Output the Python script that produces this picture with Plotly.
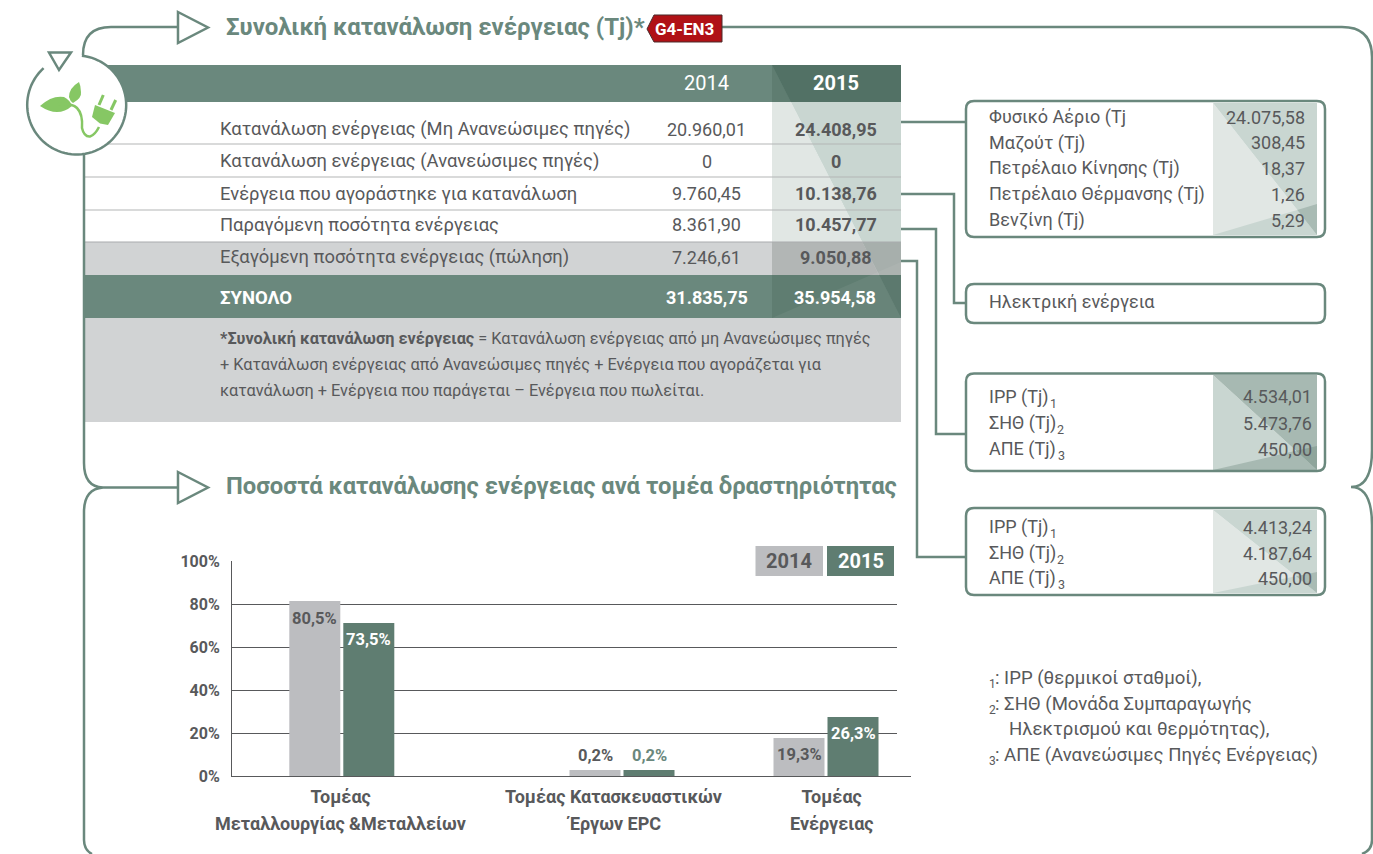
import re
import math
import plotly.graph_objects as go

W, H = 1373, 854
FONT = "Roboto"
GREEN = "#6a887d"
BAR_GREEN = "#5f7d71"
BAR_GREY = "#bcbdc0"
TXT = "#58595b"
ICON = "#86c764"

# ---------- data ----------
title_main = "Συνολική κατανάλωση ενέργειας (Tj)*"
title_sector = "Ποσοστά κατανάλωσης ενέργειας ανά τομέα δραστηριότητας"
gri_tag = "G4-EN3"
years = ["2014", "2015"]
table_rows = ["Κατανάλωση ενέργειας (Μη Ανανεώσιμες πηγές)",
              "Κατανάλωση ενέργειας (Ανανεώσιμες πηγές)",
              "Ενέργεια που αγοράστηκε για κατανάλωση",
              "Παραγόμενη ποσότητα ενέργειας",
              "Εξαγόμενη ποσότητα ενέργειας (πώληση)"]
table_2014 = ["20.960,01", "0", "9.760,45", "8.361,90", "7.246,61"]
table_2015 = ["24.408,95", "0", "10.138,76", "10.457,77", "9.050,88"]
total_label = "ΣΥΝΟΛΟ"
total_2014 = "31.835,75"
total_2015 = "35.954,58"
note_lines = ["<b>*Συνολική κατανάλωση ενέργειας</b> = Κατανάλωση ενέργειας από μη Ανανεώσιμες πηγές",
              "+ Κατανάλωση ενέργειας από Ανανεώσιμες πηγές + Ενέργεια που αγοράζεται για",
              "κατανάλωση + Ενέργεια που παράγεται – Ενέργεια που πωλείται."]

fuel_labels = ["Φυσικό Αέριο (Tj", "Μαζούτ (Tj)", "Πετρέλαιο Κίνησης (Tj)", "Πετρέλαιο Θέρμανσης (Tj)", "Βενζίνη (Tj)"]
fuel_values = ["24.075,58", "308,45", "18,37", "1,26", "5,29"]
electricity_label = "Ηλεκτρική ενέργεια"
source_labels = ["IPP (Tj)", "ΣΗΘ (Tj)", "ΑΠΕ (Tj)"]
source_marks = ["1", "2", "3"]
produced_values = ["4.534,01", "5.473,76", "450,00"]
exported_values = ["4.413,24", "4.187,64", "450,00"]
footnotes = [": IPP (θερμικοί σταθμοί),",
             ": ΣΗΘ (Μονάδα Συμπαραγωγής",
             "Ηλεκτρισμού και θερμότητας),",
             ": ΑΠΕ (Ανανεώσιμες Πηγές Ενέργειας)"]

sector_line1 = ["Τομέας", "Τομέας Κατασκευαστικών", "Τομέας"]
sector_line2 = ["Μεταλλουργίας &Μεταλλείων", "Έργων EPC", "Ενέργειας"]
# bar heights as drawn in the picture, and the labels printed on them
bars_2014 = [81.4, 2.8, 17.7]
bars_2015 = [71.2, 2.8, 27.4]
labels_2014 = ["80,5%", "0,2%", "19,3%"]
labels_2015 = ["73,5%", "0,2%", "26,3%"]
y_ticks = [0, 20, 40, 60, 80, 100]

# ---------- layout constants (pixels of the page) ----------
PX_L, PX_R, PX_B, PX_T = 232, 897, 776, 561
GROUPS = [341.8, 622.0, 826.0]
BAR_W, BAR_GAP = 51, 3
TICK_X = [340.6, 613.5, 831.6]
LABEL_SHIFT_2014 = [-18, 14, -17]
LABEL_SHIFT_2015 = [-17, 14, -16]

shapes, annos = [], []


def px(d):
    """Turn a path written in page pixels into paper coordinates."""
    flip = [True]

    def rep(m):
        v = float(m.group())
        if flip[0]:
            r = v / W
        else:
            r = 1 - v / H
        flip[0] = not flip[0]
        return f"{r:.5f}"
    return re.sub(r"-?\d+(?:\.\d+)?", rep, d)


def path(d, fill=None, line=None, lw=0, layer="below"):
    s = dict(type="path", xref="paper", yref="paper", path=px(d), layer=layer,
             line=dict(color=line if line else "rgba(0,0,0,0)", width=lw))
    if fill:
        s["fillcolor"] = fill
    shapes.append(s)


def rect(x0, y0, x1, y1, fill, layer="below"):
    shapes.append(dict(type="rect", xref="paper", yref="paper", x0=x0 / W, x1=x1 / W,
                       y0=1 - y0 / H, y1=1 - y1 / H, fillcolor=fill, line=dict(width=0), layer=layer))


def poly(pts, fill):
    path("M" + " L".join(f"{a:.2f},{b:.2f}" for a, b in pts) + " Z", fill=fill)


def text(x, y, s, size=18, color=TXT, bold=False, anchor="left"):
    annos.append(dict(xref="paper", yref="paper", x=x / W, y=1 - y / H, text=f"<b>{s}</b>" if bold else s,
                      showarrow=False, xanchor=anchor, yanchor="middle", borderpad=0,
                      font=dict(family=FONT, size=size, color=color)))


def rbox(x0, y0, x1, y1, r=8, lw=2.5):
    path(f"M{x0 + r},{y0} L{x1 - r},{y0} Q{x1},{y0} {x1},{y0 + r} L{x1},{y1 - r} Q{x1},{y1} {x1 - r},{y1} "
         f"L{x0 + r},{y1} Q{x0},{y1} {x0},{y1 - r} L{x0},{y0 + r} Q{x0},{y0} {x0 + r},{y0} Z", line=GREEN, lw=lw)


# ---------- table ----------
C0, C1 = 772, 901
T0, T1 = 65, 318


def dx(y):
    return C0 + (y - T0) * (C1 - C0) / (T1 - T0)


rect(84, 65, C1, 102, GREEN)
rect(84, 242, C1, 275, "#d1d3d4")
rect(84, 275, C1, 318, GREEN)
rect(84, 318, C1, 422, "#d1d3d4")


def band(y0, y1, left, right):
    poly([(C0, y0), (dx(y0), y0), (dx(y1), y1), (C0, y1)], left)
    poly([(dx(y0), y0), (C1, y0), (C1, y1), (dx(y1), y1)], right)


band(65, 102, "#5f7d71", "#527165")
band(102, 242, "#e1e7e4", "#c9d6d1")
band(242, 275, "#b2b6b5", "#a7afac")
band(275, 318, "#5f7d71", "#527165")
poly([(C0, 318), (C1, 262), (C1, 318)], "rgba(255,255,255,0.06)")

for y in (144, 177, 210):
    rect(85, y - 0.5, C1, y + 0.5, "#b3b5b6")
rect(85, 241.5, C1, 242.5, "#a9abad")

text(706.5, 83, years[0], 20, "#ffffff", anchor="center")
text(835.5, 83, years[1], 20, "#ffffff", True, anchor="center")
ROW_Y = [129, 161, 193, 225, 257]
for y, a, b, c in zip(ROW_Y, table_rows, table_2014, table_2015):
    text(219, y, a, 18.4)
    text(706.5, y, b, 18, anchor="center")
    text(835.5, y, c, 18, bold=True, anchor="center")
text(219, 298, total_label, 18.5, "#ffffff", True)
text(707, 298, total_2014, 18, "#ffffff", True, anchor="center")
text(835, 298, total_2015, 18, "#ffffff", True, anchor="center")
for y, s in zip((338, 365, 391), note_lines):
    text(219, y, s, 16.3)

# ---------- frame ----------
FRAME = 2.5
path("M83,55 Q83,27 111,27 L178,27", line=GREEN, lw=FRAME)
path("M722,27 L1342,27 Q1372,27 1372,57 L1372,450 Q1372,487 1351,487 Q1372,487 1372,525 L1372,840 Q1372,850 1362,854",
     line=GREEN, lw=FRAME)
path("M84,155 L84,463 Q84,487 103,487.5 L178,487.5 M103,487.5 Q84,489 84,512 L84,840 Q84,850 92,854", line=GREEN, lw=FRAME)
path("M178,12 L208,27.5 L178,43 Z", fill="#ffffff", line=GREEN, lw=FRAME)
path("M178,472 L208,487.5 L178,503 Z", fill="#ffffff", line=GREEN, lw=FRAME)

# connectors
path("M901,122 L966,122", line=GREEN, lw=FRAME)
path("M901,194 L954,194 L954,303 L966,303", line=GREEN, lw=FRAME)
path("M901,229 L936,229 L936,434 L966,434", line=GREEN, lw=FRAME)
path("M901,261 L917,261 L917,557 L966,557", line=GREEN, lw=FRAME)

# ---------- icon ----------
cx, cy, r = 76.7, 105, 49.5
circle_d = "M" + " L".join(f"{cx + r * math.cos(math.radians(a)):.2f},{cy + r * math.sin(math.radians(a)):.2f}"
                           for a in range(0, 360, 6)) + " Z"
path(circle_d, fill="#ffffff")
arc_d = "M" + " L".join(f"{cx + r * math.cos(math.radians(a)):.2f},{cy + r * math.sin(math.radians(a)):.2f}"
                        for a in range(-84, 232, 4))
path(arc_d, line=GREEN, lw=FRAME)
path("M49,52.5 L71,52.5 L59,70 Z", fill="#ffffff", line=GREEN, lw=FRAME)
path("M40,106 Q52,95 64,97 Q70,100 72,106 Q58,118 40,106 Z", fill=ICON)
path("M79,82 Q69,88 69,97 Q70,101 73,103 Q82,98 81,92 Q81,86 79,82 Z", fill=ICON)
path("M58,104 Q72,103 77,108 Q83,114 82,128 Q84,137 90,136.5 Q95,135 99,127", line=ICON, lw=2.5)
path("M95,105 L115,113 L108,125 L100,123.5 L92,117 Z", fill=ICON)
path("M103.3,95 L99,105", line=ICON, lw=3)
path("M115.7,100 L111,110", line=ICON, lw=3)

# ---------- titles and tag ----------
text(225, 27, title_main, 24, GREEN, True)
text(225, 486, title_sector, 23.8, GREEN, True)
path("M647,29 L654,15 L722,15 L722,42 L654,42 Z", fill="#b01116", line="#4a2b2b", lw=1)
text(684, 29, gri_tag, 17, "#ffffff", True, anchor="center")

# ---------- side boxes ----------
S0, S1 = 1213, 1317


def shaded(y0, y1, left, right, foot_left, foot_right, fh):
    poly([(S0, y0), (S1, y1), (S0, y1)], left)
    poly([(S0, y0), (S1, y0), (S1, y1)], right)
    t = (y1 - y0) / (y1 - y0 + fh)
    xc, yc = S0 + t * (S1 - S0), y1 - t * fh
    poly([(S0, y1), (xc, yc), (S1, y1)], foot_left)
    poly([(xc, yc), (S1, y1 - fh), (S1, y1)], foot_right)


shaded(103, 235, "#e1e7e4", "#c9d6d1", "#c9d6d1", "#a9bbb4", 31)
rbox(966, 101, 1325, 237)
for y, a, b in zip((117, 143, 168, 194, 220), fuel_labels, fuel_values):
    text(988, y, a)
    text(1306, y, b, anchor="right")

rbox(966, 284, 1325, 323)
text(988, 301, electricity_label)

SUB_X = [1049, 1056, 1057]
shaded(375, 470, "#c9d6d1", "#a7b9b2", "#a7b9b2", "#8fa59c", 24)
rbox(966, 373.5, 1325, 471)
for y, a, m, sx, b in zip((397, 423, 449), source_labels, source_marks, SUB_X, produced_values):
    text(988, y, a)
    text(sx, y + 6, m, 12.5)
    text(1313, y, b, anchor="right")

shaded(510, 593, "#e1e7e4", "#c9d6d1", "#c9d6d1", "#a9bbb4", 21)
rbox(966, 508, 1325, 595)
for y, a, m, sx, b in zip((527, 553, 578), source_labels, source_marks, SUB_X, exported_values):
    text(988, y, a)
    text(sx, y + 6, m, 12.5)
    text(1313, y, b, anchor="right")

FOOT_X = [994, 994, 1008, 994]
FOOT_MARK = ["1", "2", "", "3"]
for y, fx, m, s in zip((678, 704, 729, 755), FOOT_X, FOOT_MARK, footnotes):
    if m:
        text(988, y + 6, m, 12)
    text(fx, y, s, 18.6)

# ---------- chart ----------
x_2014 = [g - (BAR_W + BAR_GAP) / 2 for g in GROUPS]
x_2015 = [g + (BAR_W + BAR_GAP) / 2 for g in GROUPS]
fig = go.Figure()
fig.add_bar(x=x_2014, y=bars_2014, width=BAR_W, name=years[0], marker=dict(color=BAR_GREY, line=dict(width=0)))
fig.add_bar(x=x_2015, y=bars_2015, width=BAR_W, name=years[1], marker=dict(color=BAR_GREEN, line=dict(width=0)))

for xs, ys, labs, shifts, colours in (
        (x_2014, bars_2014, labels_2014, LABEL_SHIFT_2014, [TXT, TXT, TXT]),
        (x_2015, bars_2015, labels_2015, LABEL_SHIFT_2015, ["#ffffff", GREEN, "#ffffff"])):
    for a, b, s, sh, col in zip(xs, ys, labs, shifts, colours):
        annos.append(dict(x=a, y=b, xref="x", yref="y", text=f"<b>{s}</b>", showarrow=False, yshift=sh,
                          yanchor="middle", font=dict(family=FONT, size=16.5, color=col)))
for a, s in zip(TICK_X, sector_line2):
    annos.append(dict(x=a, y=0, xref="x", yref="y", text=f"<b>{s}</b>", showarrow=False, yshift=-47,
                      yanchor="middle", font=dict(family=FONT, size=18, color=TXT)))

# stubs the reference leaves out of the chart area
rect(738.5, 555, PX_R + 1, 566, "#ffffff", layer="above")
rect(PX_R, PX_B, 911, PX_B + 1, "#58595b")
rect(755.5, 546, 823, 576, BAR_GREY, layer="above")
rect(827, 546, 894, 576, BAR_GREEN, layer="above")
text(789, 561, years[0], 20, TXT, True, anchor="center")
text(860.5, 561, years[1], 20, "#ffffff", True, anchor="center")

fig.update_layout(
    width=W, height=H, margin=dict(l=0, r=0, t=0, b=0, pad=0, autoexpand=False), autosize=False,
    paper_bgcolor="#ffffff", plot_bgcolor="rgba(0,0,0,0)", barmode="overlay", showlegend=False,
    shapes=shapes, annotations=annos,
    font=dict(family=FONT, color=TXT),
    xaxis=dict(domain=[PX_L / W, PX_R / W], range=[PX_L, PX_R], tickmode="array", tickvals=TICK_X,
               ticktext=[f"<b>{s}</b>" for s in sector_line1], tickfont=dict(family=FONT, size=18, color=TXT),
               showgrid=False, showline=True, linecolor="#58595b", linewidth=1, ticks="", zeroline=False,
               ticklabelstandoff=4, automargin=False),
    yaxis=dict(domain=[1 - PX_B / H, 1 - PX_T / H], range=[0, 100], tickmode="array", tickvals=y_ticks,
               ticktext=[f"<b>{v}%</b>" for v in y_ticks], tickfont=dict(family=FONT, size=16, color=TXT),
               showgrid=True, gridcolor="#58595b", gridwidth=1, showline=True, linecolor="#58595b", linewidth=1,
               ticks="", zeroline=False, ticklabelstandoff=8, automargin=False),
)
fig.write_html("out.html", config=dict(displayModeBar=False),
               post_script="document.body.style.margin='0';document.body.style.overflow='hidden';")
